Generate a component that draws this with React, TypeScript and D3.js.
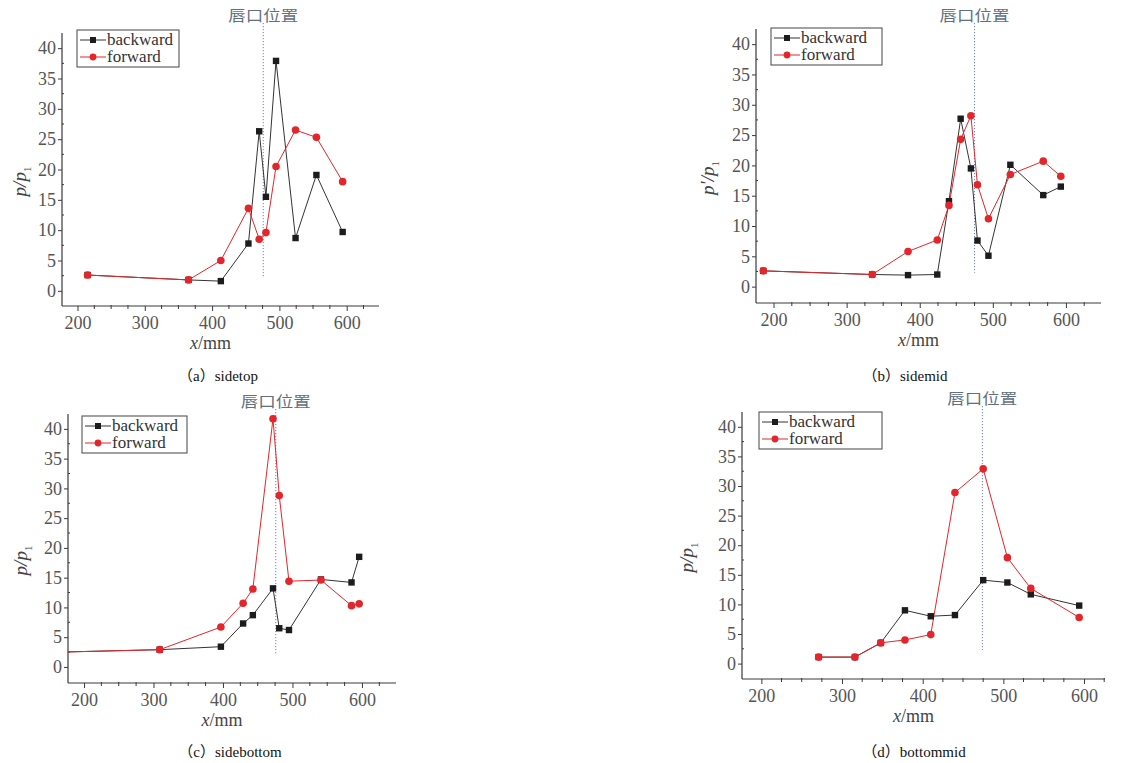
import React, { useRef, useEffect } from 'react'
import * as d3 from 'd3'

// tap positions x (mm) and pressure ratio p/p1, one set per panel
const xSidetop = [215, 365, 413, 454, 470, 480, 495, 524, 555, 594]
const backSidetop = [2.6, 1.8, 1.6, 7.8, 26.3, 15.5, 37.9, 8.7, 19.1, 9.7]
const fwdSidetop = [2.6, 1.8, 5.0, 13.6, 8.5, 9.6, 20.5, 26.5, 25.3, 18.0]

const xSidemid = [186, 335, 384, 424, 440, 456, 470, 479, 494, 524, 569, 593]
const backSidemid = [2.6, 2.0, 1.9, 2.0, 14.1, 27.7, 19.5, 7.6, 5.1, 20.1, 15.1, 16.5]
const fwdSidemid = [2.6, 2.0, 5.8, 7.7, 13.4, 24.3, 28.2, 16.8, 11.2, 18.5, 20.7, 18.2]

const xSidebottom = [168, 309, 397, 429, 443, 472, 481, 495, 541, 585, 596]
const backSidebottom = [2.5, 2.9, 3.4, 7.3, 8.7, 13.2, 6.5, 6.2, 14.7, 14.2, 18.5]
const fwdSidebottom = [2.5, 2.9, 6.7, 10.7, 13.1, 41.7, 28.8, 14.4, 14.6, 10.3, 10.6]

const xBottommid = [271, 316, 348, 378, 410, 440, 475, 505, 534, 594]
const backBottommid = [1.1, 1.1, 3.5, 9.0, 8.0, 8.2, 14.1, 13.7, 11.7, 9.8]
const fwdBottommid = [1.1, 1.1, 3.5, 4.0, 4.9, 28.9, 32.9, 17.9, 12.7, 7.8]

// lip (唇口) position for each panel
const lipX = [476, 475, 476, 474]
const lipBottom = 2.3

const captions = ['（a）sidetop', '（b）sidemid', '（c）sidebottom', '（d）bottommid']
const yLabels = ['p/p', "p'/p", 'p/p', 'p/p']
const seriesNames = ['backward', 'forward']
const xTicks = [200, 300, 400, 500, 600]
const yTicks = [0, 5, 10, 15, 20, 25, 30, 35, 40]
const lipLabel = '唇口位置'

const panelX = [xSidetop, xSidemid, xSidebottom, xBottommid]
const panelBack = [backSidetop, backSidemid, backSidebottom, backBottommid]
const panelFwd = [fwdSidetop, fwdSidemid, fwdSidebottom, fwdBottommid]

// where each sub-figure sits on the page
const layout = [
    { left: 62, right: 379, top: 33, bottom: 306, xDom: [177, 648], yDom: [-2.5, 42.5], yLabDx: -41, lipDy: -12, legX: 15, legY: -3, legW: 102, capX: 218, capY: 381 },
    { left: 756, right: 1101, top: 29, bottom: 303, xDom: [176, 648], yDom: [-2.7, 42.5], yLabDx: -47, lipDy: -8, legX: 15, legY: -1, legW: 111, capX: 905, capY: 381 },
    { left: 68, right: 396, top: 414, bottom: 683, xDom: [177, 649], yDom: [-2.7, 42.5], yLabDx: -46, lipDy: -7, legX: 14, legY: 2, legW: 105, capX: 230, capY: 757 },
    { left: 742, right: 1105, top: 412, bottom: 679, xDom: [176, 626], yDom: [-2.6, 42.5], yLabDx: -54, lipDy: -8, legX: 17, legY: 0, legW: 123, capX: 914, capY: 757 },
]

const BLACK = '#1c1c1c'
const RED = '#e3262b'
const AXIS = '#3a3a3a'
const TICKTXT = '#555'
const SERIF = 'Liberation Serif, Times New Roman, DejaVu Serif, serif'
const CJK = 'Noto Sans CJK SC, sans-serif'

export default function App() {
    const svgRef = useRef<SVGSVGElement>(null)

    useEffect(() => {
        const svg = d3.select(svgRef.current)
        svg.selectAll('*').remove()

        layout.forEach((L, i) => {
            const xs = panelX[i]
            const back = xs.map((x, j) => ({ x, y: panelBack[i][j] }))
            const fwd = xs.map((x, j) => ({ x, y: panelFwd[i][j] }))

            const xScale = d3.scaleLinear().domain(L.xDom).range([L.left, L.right])
            const yScale = d3.scaleLinear().domain(L.yDom).range([L.bottom, L.top])

            const g = svg.append('g')

            // clip so the off-axis start point of (c) hides behind the axis
            g.append('clipPath').attr('id', `clip-${i}`)
                .append('rect')
                .attr('x', L.left).attr('y', L.top - 20)
                .attr('width', L.right - L.left).attr('height', L.bottom - L.top + 20)

            // lip position marker
            const lx = xScale(lipX[i])
            g.append('line')
                .attr('x1', lx).attr('x2', lx)
                .attr('y1', L.top + L.lipDy + 2).attr('y2', yScale(lipBottom))
                .attr('stroke', '#6f80b8').attr('stroke-width', 1)
                .attr('stroke-dasharray', '1.2,1.8')
            g.append('text')
                .attr('x', lx).attr('y', L.top + L.lipDy)
                .attr('text-anchor', 'middle')
                .style('font-family', CJK).attr('font-size', 15)
                .attr('textLength', 70).attr('lengthAdjust', 'spacingAndGlyphs')
                .attr('fill', '#62707e')
                .text(lipLabel)

            // axes
            const xAxis = d3.axisBottom(xScale).tickValues(xTicks).tickSize(5).tickFormat(d3.format('d'))
            const ax = g.append('g').attr('transform', `translate(0,${L.bottom})`).call(xAxis)
            ax.attr('font-family', SERIF)
            ax.select('.domain').attr('stroke', AXIS).attr('stroke-width', 1.2).attr('d', `M${L.left},0H${L.right}`)
            ax.selectAll('line').attr('stroke', AXIS)
            ax.selectAll('text').style('font-family', SERIF).attr('font-size', 18).attr('fill', TICKTXT).attr('dy', '0.82em')
            const minorX = d3.range(200, L.xDom[1], 25).concat([175]).filter(v => v >= L.xDom[0] && v % 100 !== 0)
            ax.selectAll('.minor').data(minorX).join('line')
                .attr('x1', d => xScale(d)).attr('x2', d => xScale(d))
                .attr('y1', -1).attr('y2', 3)
                .attr('stroke', AXIS)

            const yAxis = d3.axisLeft(yScale).tickValues(yTicks).tickSize(4)
            const ay = g.append('g').attr('transform', `translate(${L.left},0)`).call(yAxis)
            ay.attr('font-family', SERIF)
            ay.select('.domain').attr('stroke', AXIS).attr('stroke-width', 1.2).attr('d', `M0,${L.top}V${L.bottom}`)
            ay.selectAll('line').attr('stroke', AXIS)
            ay.selectAll('text').style('font-family', SERIF).attr('font-size', 18).attr('fill', TICKTXT).attr('x', -6)
            const minorY = d3.range(2.5, 42, 5)
            ay.selectAll('.minor').data(minorY).join('line')
                .attr('x1', 0).attr('x2', 2)
                .attr('y1', d => yScale(d)).attr('y2', d => yScale(d))
                .attr('stroke', AXIS)

            // axis titles
            g.append('text')
                .attr('x', (L.left + L.right) / 2 - 10).attr('y', L.bottom + 43)
                .attr('text-anchor', 'middle')
                .style('font-family', SERIF).attr('font-size', 18).attr('fill', '#444')
                .html('<tspan font-style="italic">x</tspan>/mm')
            const yl = g.append('text')
                .attr('transform', `translate(${L.left + L.yLabDx + 5},${(L.top + L.bottom) / 2 + 12}) rotate(-90)`)
                .attr('text-anchor', 'middle')
                .style('font-family', SERIF).attr('font-size', 19).attr('fill', '#444')
            yl.append('tspan').attr('font-style', 'italic').text(yLabels[i])
            yl.append('tspan').attr('font-size', 11).attr('dy', 5).text('1')

            // series
            const line = d3.line<{ x: number, y: number }>().x(d => xScale(d.x)).y(d => yScale(d.y))
            const plot = g.append('g').attr('clip-path', `url(#clip-${i})`)
            plot.append('path').datum(back).attr('d', line).attr('fill', 'none').attr('stroke', '#333').attr('stroke-width', 1)
            plot.append('path').datum(fwd).attr('d', line).attr('fill', 'none').attr('stroke', RED).attr('stroke-width', 1)
            plot.selectAll('.sq').data(back).join('rect')
                .attr('x', d => xScale(d.x) - 3.2).attr('y', d => yScale(d.y) - 3.2)
                .attr('width', 6.4).attr('height', 6.4)
                .attr('fill', BLACK)
            plot.selectAll('.dot').data(fwd).join('circle')
                .attr('cx', d => xScale(d.x)).attr('cy', d => yScale(d.y))
                .attr('r', 3.8).attr('fill', RED)

            // legend
            const lgx = L.left + L.legX
            const lgy = L.top + L.legY
            const leg = g.append('g').attr('transform', `translate(${lgx},${lgy})`)
            leg.append('rect').attr('width', L.legW).attr('height', 37)
                .attr('fill', 'white').attr('stroke', '#555').attr('stroke-width', 1.1)
            seriesNames.forEach((name, k) => {
                const cy = 10 + k * 17
                const col = k === 0 ? '#333' : RED
                leg.append('line').attr('x1', 3).attr('x2', 29).attr('y1', cy).attr('y2', cy)
                    .attr('stroke', col).attr('stroke-width', 1)
                if (k === 0) {
                    leg.append('rect').attr('x', 16 - 3).attr('y', cy - 3).attr('width', 6).attr('height', 6).attr('fill', BLACK)
                } else {
                    leg.append('circle').attr('cx', 16).attr('cy', cy).attr('r', 3.4).attr('fill', RED)
                }
                leg.append('text').attr('x', 30).attr('y', cy + 5)
                    .style('font-family', SERIF).attr('font-size', 17).attr('fill', '#333')
                    .text(name)
            })

            // caption
            g.append('text')
                .attr('x', L.capX).attr('y', L.capY)
                .attr('text-anchor', 'middle')
                .style('font-family', `Liberation Serif, ${CJK}`).attr('font-size', 15).attr('fill', '#111')
                .text(captions[i])
        })
    }, [])

    return (
        <svg ref={svgRef} width={1122} height={763}
            style={{ position: 'absolute', left: 0, top: 0, background: 'white' }} />
    )
}
